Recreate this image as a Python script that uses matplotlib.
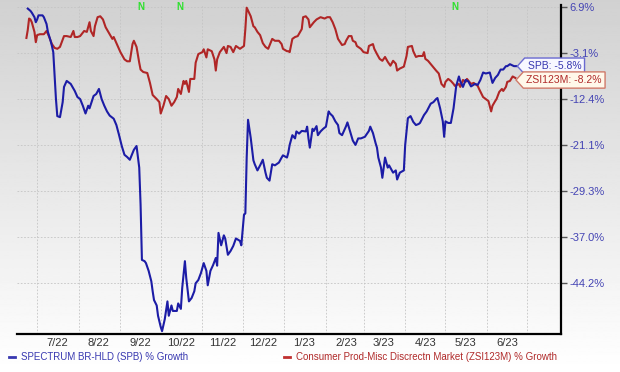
import numpy as np
import pandas as pd
import matplotlib
matplotlib.use("Agg")
import matplotlib.pyplot as plt
import matplotlib.dates as mdates
import matplotlib.transforms as mtransforms
from matplotlib.path import Path
from matplotlib.lines import Line2D

plt.rcParams["font.family"] = ["Liberation Sans", "DejaVu Sans"]

# days counted from 2022-07-01, values in % growth
spb_days = [-7, -5, -4, -2, -1, 0, 1, 4, 5, 7,
            8, 10, 11, 12, 13, 14, 15, 17, 19, 20,
            22, 25, 28, 30, 32, 34, 36, 38, 39, 42,
            44, 46, 48, 50, 52, 54, 57, 59, 61, 63,
            65, 67, 69, 72, 74, 76, 77, 78, 80, 81,
            83, 85, 86, 87, 89, 90, 92, 93, 95, 97,
            98, 100, 101, 104, 105, 107, 108, 110, 111, 113,
            115, 117, 118, 120, 122, 124, 126, 127, 129, 131,
            133, 134, 135, 137, 139, 140, 142, 144, 146, 148,
            151, 152, 154, 155, 156, 157, 159, 161, 162, 164,
            166, 168, 170, 171, 173, 175, 177, 180, 182, 183,
            186, 187, 188, 190, 192, 193, 195, 197, 200, 201,
            202, 203, 205, 206, 208, 209, 211, 213, 215, 217,
            218, 220, 222, 224, 225, 227, 230, 231, 233, 235,
            237, 239, 241, 244, 247, 248, 250, 252, 253, 254,
            256, 257, 259, 261, 262, 265, 267, 268, 270, 273,
            274, 276, 278, 280, 282, 284, 285, 288, 290, 293,
            295, 297, 298, 300, 302, 303, 304, 306, 308, 310,
            312, 314, 315, 317, 319, 321, 323, 326, 328, 330,
            332, 334, 337, 339, 341, 343, 345, 347, 349, 350,
            352, 355, 357]
spb_pct = [6.5, 6.0, 5.6, 4.6, 3.5, 4.1, 5.0, 5.0, 4.6, 3.1,
           1.4, -0.5, -1.6, -2.9, -7.8, -12.4, -15.7, -15.9, -13.0, -10.0,
           -8.8, -9.4, -10.8, -12.0, -12.4, -13.7, -15.2, -13.7, -14.2, -11.8,
           -11.4, -10.4, -12.4, -13.7, -14.8, -15.6, -16.2, -17.4, -19.3, -21.3,
           -22.9, -23.3, -23.8, -22.0, -21.3, -25.2, -31.6, -40.6, -40.8, -41.1,
           -42.3, -43.9, -45.4, -46.7, -47.5, -49.0, -50.6, -51.2, -49.5, -46.9,
           -49.0, -47.5, -48.3, -48.3, -47.2, -48.0, -44.9, -40.8, -43.4, -46.9,
           -46.4, -45.4, -44.2, -43.7, -42.6, -41.1, -42.3, -44.5, -42.3, -41.4,
           -40.3, -41.5, -36.3, -38.3, -36.7, -37.2, -39.8, -39.2, -38.4, -37.2,
           -37.6, -38.3, -33.3, -33.1, -23.4, -16.4, -19.8, -23.9, -24.6, -25.7,
           -24.8, -23.8, -26.1, -27.0, -27.5, -24.6, -24.8, -24.3, -23.4, -23.0,
           -23.4, -22.5, -21.1, -19.3, -19.9, -18.6, -19.0, -18.5, -18.6, -17.7,
           -19.9, -21.6, -18.1, -18.5, -17.6, -19.3, -18.6, -18.1, -17.7, -14.8,
           -15.2, -15.7, -16.7, -17.4, -18.9, -19.3, -17.6, -16.9, -18.6, -20.3,
           -21.1, -19.9, -19.9, -19.6, -18.5, -17.7, -18.9, -20.8, -21.6, -23.4,
           -25.2, -27.0, -23.4, -25.2, -24.8, -26.1, -25.7, -27.3, -26.1, -25.7,
           -21.1, -16.1, -15.7, -16.8, -17.4, -17.2, -17.0, -15.5, -14.8, -13.3,
           -13.0, -12.4, -12.2, -14.2, -16.7, -19.6, -16.7, -17.0, -17.0, -14.2,
           -9.8, -7.9, -8.9, -10.0, -8.6, -8.9, -9.9, -9.4, -9.6, -8.6,
           -7.1, -7.3, -7.1, -9.2, -8.2, -7.6, -6.5, -6.5, -5.8, -5.8,
           -5.4, -5.8, -5.8]

zsi_days = [-8, -7, -6, -5, -4, -2, -1, 0, 2, 5,
            7, 9, 11, 13, 15, 17, 20, 22, 25, 27,
            28, 30, 32, 35, 37, 39, 40, 42, 43, 45,
            47, 49, 51, 54, 56, 57, 60, 62, 65, 67,
            69, 71, 72, 74, 76, 77, 79, 82, 84, 86,
            89, 91, 92, 94, 96, 98, 100, 102, 104, 105,
            107, 108, 109, 110, 111, 113, 114, 117, 118, 120,
            123, 124, 126, 127, 130, 132, 133, 134, 136, 139,
            141, 142, 144, 146, 148, 150, 151, 154, 155, 156,
            159, 161, 162, 164, 166, 168, 170, 172, 175, 177,
            180, 182, 183, 186, 187, 188, 190, 192, 194, 197,
            198, 200, 202, 203, 206, 208, 211, 214, 216, 218,
            220, 222, 224, 227, 229, 230, 232, 234, 235, 237,
            238, 241, 243, 246, 247, 250, 251, 253, 255, 257,
            259, 261, 263, 265, 267, 268, 270, 273, 275, 276,
            279, 280, 282, 284, 287, 288, 289, 291, 294, 297,
            299, 301, 303, 304, 306, 308, 310, 311, 314, 315,
            317, 319, 320, 323, 325, 326, 328, 329, 332, 334,
            336, 338, 339, 341, 342, 344, 346, 347, 349, 350,
            352, 354, 356]
zsi_pct = [0.1, 1.8, 4.3, 4.1, 3.5, 1.4, -0.8, 0.7, 0.9, 0.9,
           1.6, 0.3, -1.2, -2.0, -2.2, -1.8, 0.5, 0.5, 0.3, 1.6,
           0.3, 0.3, 0.5, 1.6, 1.4, 3.5, 1.6, 0.5, 2.6, 4.6,
           4.8, 4.1, 2.4, 0.9, -0.1, 0.3, -1.6, -2.9, -4.4, -4.8,
           -4.8, -1.2, -0.5, -1.8, -5.1, -6.5, -7.0, -7.2, -9.2, -11.6,
           -12.4, -13.0, -15.2, -13.7, -11.8, -12.4, -13.7, -13.0, -12.0, -10.4,
           -11.4, -10.0, -8.8, -9.4, -8.8, -11.0, -8.4, -8.4, -5.1, -3.3,
           -2.9, -2.3, -4.0, -2.3, -2.7, -4.4, -6.7, -4.4, -2.9, -1.8,
           -3.1, -1.6, -1.8, -2.9, -1.6, -2.0, -2.2, -1.6, 2.0, 6.7,
           4.8, 2.6, 2.4, 1.4, 0.7, -1.0, -1.8, -2.2, -0.1, -0.5,
           -0.5, -1.2, -2.2, -2.7, -2.7, -2.9, -0.1, 0.3, 0.5, 2.0,
           4.6, 4.8, 4.1, 2.4, 3.5, 4.1, 4.6, 4.3, 4.6, 4.6,
           3.5, 2.0, -0.1, -1.4, -1.2, -0.5, 0.5, 0.5, -0.5, -0.8,
           -1.6, -2.2, -2.9, -3.1, -1.6, -1.2, -2.2, -3.3, -4.3, -4.7,
           -3.9, -4.9, -5.7, -4.7, -5.3, -6.7, -6.3, -5.9, -3.7, -1.8,
           -1.6, -2.7, -3.9, -3.7, -3.7, -2.9, -4.3, -4.7, -5.7, -6.7,
           -7.3, -9.4, -10.0, -9.0, -8.4, -8.8, -9.4, -9.8, -9.4, -10.0,
           -8.6, -9.0, -8.4, -9.4, -9.2, -9.4, -9.8, -10.4, -12.0, -12.4,
           -12.8, -14.8, -13.7, -12.8, -12.4, -11.0, -10.4, -10.8, -10.0, -9.0,
           -8.8, -7.9, -8.2]

y_ticks = [6.9, -3.1, -12.4, -21.1, -29.3, -37.0, -44.2]
n_days = [77, 106, 311]
spb_name = "SPECTRUM BR-HLD (SPB) % Growth"
zsi_name = "Consumer Prod-Misc Discrectn Market (ZSI123M) % Growth"

start = pd.Timestamp("2022-07-01")


def to_dates(days):
    return start + pd.to_timedelta(np.asarray(days, dtype=float), unit="D")


# the price axis is squeezed towards the bottom
K, V0 = 0.0063, 6.9


def fwd(v):
    return np.log(np.clip(1 + K * (np.asarray(v) - V0), 1e-6, None))


def inv(y):
    return V0 + (np.exp(y) - 1) / K


def tag_box(x0, y0, width, height, mutation_size):
    pad = 0.3 * mutation_size
    x0, y0 = x0 - pad, y0 - pad
    w, h = width + 2 * pad, height + 2 * pad
    tip = h * 0.45
    verts = [(x0 - tip, y0 + h / 2), (x0, y0), (x0 + w, y0),
             (x0 + w, y0 + h), (x0, y0 + h), (x0 - tip, y0 + h / 2)]
    codes = [Path.MOVETO] + [Path.LINETO] * 4 + [Path.CLOSEPOLY]
    return Path(verts, codes)


blue = "#1c1ca6"
red = "#b02626"

fig = plt.figure(figsize=(6.2, 3.72), dpi=100)

bg = fig.add_axes([0, 0, 1, 1], zorder=-10)
grad = np.linspace(0.82, 1.0, 256).reshape(-1, 1)
bg.imshow(grad, aspect="auto", cmap="gray", vmin=0, vmax=1,
          extent=[0, 1, 0, 1], origin="upper")
bg.axis("off")

ax = fig.add_axes([17 / 620, 1 - 334 / 372, (561 - 17) / 620, (334 - 5) / 372])
ax.set_facecolor("none")
ax.set_yscale("function", functions=(fwd, inv))

ax.plot(to_dates(zsi_days), zsi_pct, color=red, lw=1.5, solid_joinstyle="round")
ax.plot(to_dates(spb_days), spb_pct, color=blue, lw=1.5, solid_joinstyle="round")

ax.set_xlim(start + pd.Timedelta(days=-15), start + pd.Timedelta(days=390))
ax.set_ylim(-51.6, 7.3)

month_starts = pd.date_range("2022-07-01", "2023-07-01", freq="MS")
mid_months = pd.date_range("2022-07-01", "2023-06-01", freq="MS") + pd.Timedelta(days=15)
ax.xaxis.set_major_locator(matplotlib.ticker.FixedLocator(mdates.date2num(month_starts)))
ax.xaxis.set_major_formatter(matplotlib.ticker.NullFormatter())
ax.xaxis.set_minor_locator(matplotlib.ticker.FixedLocator(mdates.date2num(mid_months)))
ax.xaxis.set_minor_formatter(matplotlib.ticker.FixedFormatter(
    [f"{d.month}/{d.strftime('%y')}" for d in mid_months]))
ax.tick_params(axis="x", which="both", length=0, pad=3, labelsize=8, labelcolor="#333333")

ax.yaxis.tick_right()
ax.set_yticks(y_ticks)
ax.set_yticklabels([f"{t:.1f}%" for t in y_ticks])
ax.yaxis.set_minor_locator(matplotlib.ticker.NullLocator())
ax.tick_params(axis="y", length=4, width=1, color="#555555", pad=2,
               labelsize=8, labelcolor="#4444b4")

ax.grid(True, which="major", color="#c4c4c4", lw=0.6, ls=(0, (2, 2)))
for s in ["left", "top"]:
    ax.spines[s].set_visible(False)
for s in ["right", "bottom"]:
    ax.spines[s].set_linewidth(1.6)
    ax.spines[s].set_color("black")

trans = mtransforms.blended_transform_factory(ax.transData, ax.transAxes)
for d in n_days:
    ax.text(to_dates([d])[0], 0.995, "N", transform=trans, color="#2ee02e",
            fontsize=7, fontweight="bold", ha="center", va="center", clip_on=False)

ax.annotate(f"SPB: {spb_pct[-1]:.1f}%", xy=(to_dates([spb_days[-1]])[0], spb_pct[-1]),
            xytext=(8, 0), textcoords="offset points", va="center", ha="left",
            fontsize=7.5, color="#3838b0", annotation_clip=False,
            bbox=dict(boxstyle=tag_box, fc="#f7f7ff", ec="#6a6ad0", lw=1))
ax.annotate(f"ZSI123M: {zsi_pct[-1]:.1f}%", xy=(to_dates([zsi_days[-1]])[0], zsi_pct[-1]),
            xytext=(8, -1.5), textcoords="offset points", va="center", ha="left",
            fontsize=7.5, color="#b02a2a", annotation_clip=False,
            bbox=dict(boxstyle=tag_box, fc="#fff8ea", ec="#d07a6a", lw=1))

# legend along the bottom
fig.add_artist(Line2D([9 / 620, 15 / 620], [1 - 357 / 372] * 2, color="#3838b0", lw=2))
fig.text(21 / 620, 1 - 357 / 372, spb_name, color="#3838b0", fontsize=7, va="center")
fig.add_artist(Line2D([284 / 620, 290 / 620], [1 - 357 / 372] * 2, color="#c03030", lw=2))
fig.text(296 / 620, 1 - 357 / 372, zsi_name, color="#b02a2a", fontsize=7, va="center")

fig.savefig("out.png", dpi=100)
